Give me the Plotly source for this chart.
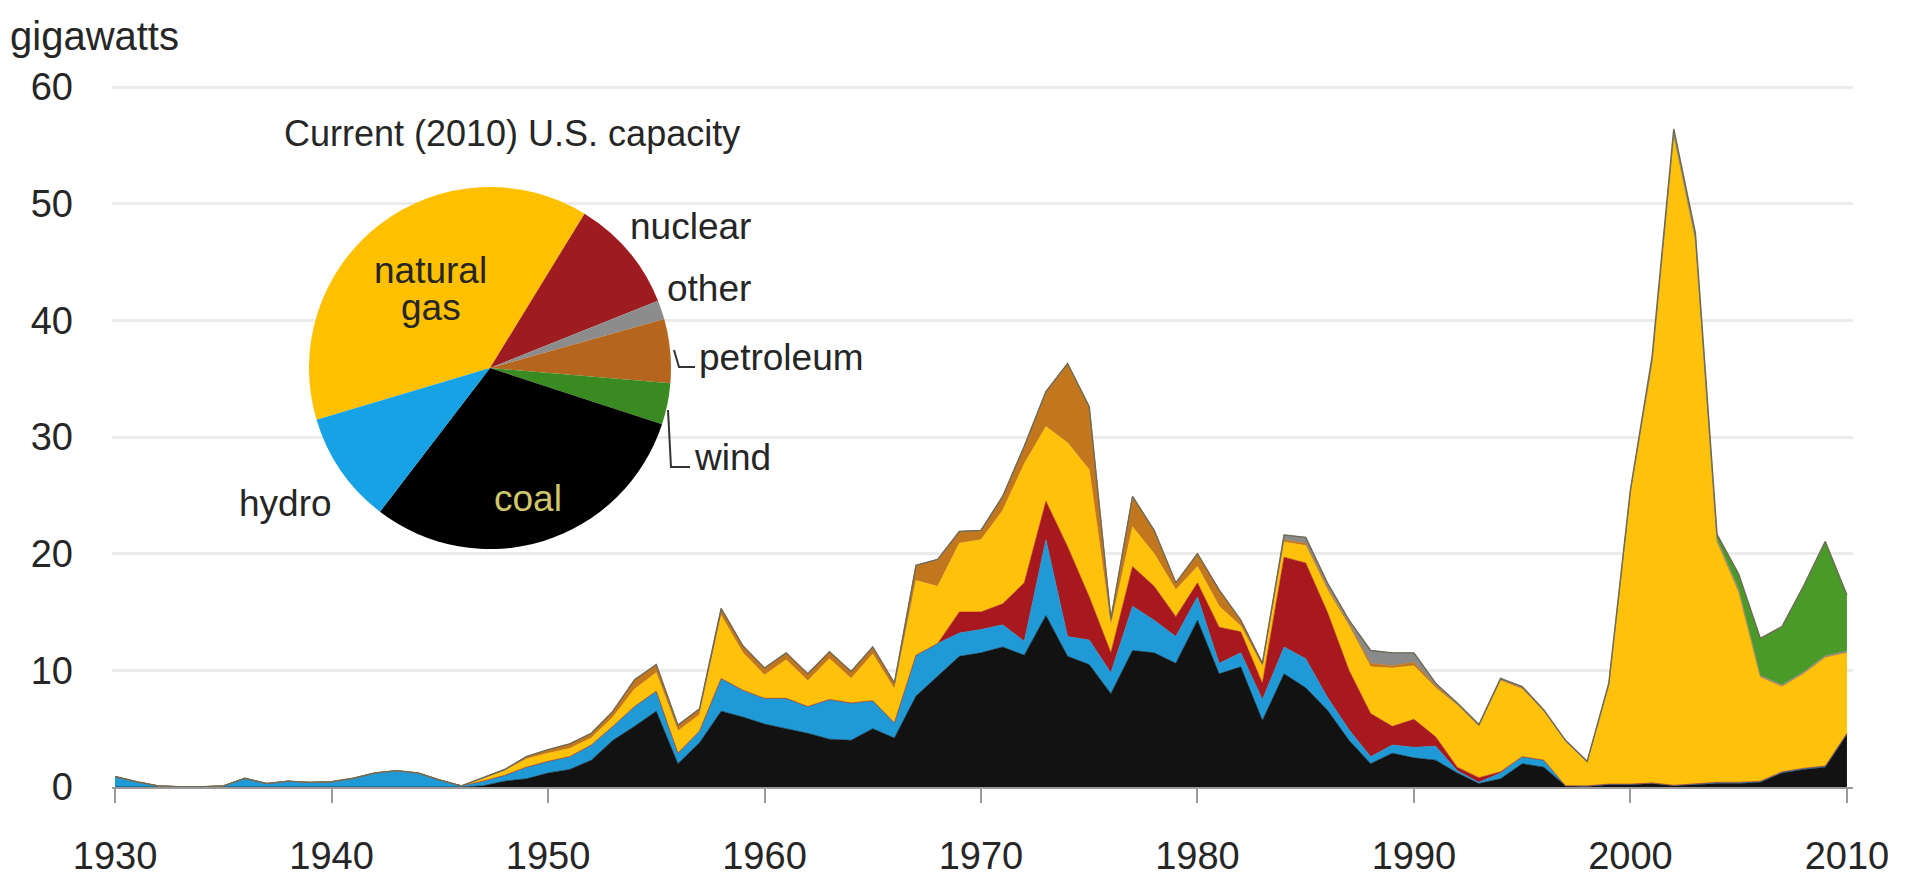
import plotly.graph_objects as go

# ---------------- data (gigawatts of capacity added per year) ----------------
years = list(range(1930, 2011))

coal = [0]*17 + [
    0.1, 0.5, 0.7, 1.2, 1.5, 2.3, 4.0, 5.2, 6.5, 2.0,      # 1947-1956
    3.8, 6.5, 6.0, 5.4, 5.0, 4.6, 4.1, 4.0, 5.0, 4.2,      # 1957-1966
    7.8, 9.5, 11.2, 11.5, 12.0, 11.3, 14.7, 11.2, 10.5, 8.0,  # 1967-1976
    11.7, 11.5, 10.6, 14.3, 9.7, 10.3, 5.7, 9.7, 8.5, 6.6,  # 1977-1986
    4.0, 2.0, 2.9, 2.5, 2.3, 1.2, 0.3, 0.7, 2.0, 1.7,       # 1987-1996
    0.1, 0.05, 0.2, 0.2, 0.3, 0.1, 0.2, 0.3, 0.3, 0.4,      # 1997-2006
    1.2, 1.5, 1.7, 4.5]                                     # 2007-2010

hydro = [
    0.9, 0.45, 0.1, 0.02, 0.02, 0.1, 0.75, 0.3, 0.5, 0.4,   # 1930-1939
    0.45, 0.75, 1.2, 1.4, 1.2, 0.6, 0.1,                    # 1940-1946
    0.4, 0.5, 1.0, 1.0, 1.1, 1.3, 1.2, 1.7, 1.7, 0.9,       # 1947-1956
    1.0, 2.8, 2.3, 2.2, 2.6, 2.3, 3.4, 3.2, 2.4, 1.3,       # 1957-1966
    3.5, 2.8, 2.0, 2.0, 1.9, 1.2, 6.5, 1.7, 2.1, 1.8,       # 1967-1976
    3.8, 2.8, 2.3, 2.0, 0.9, 1.2, 1.8, 2.3, 2.5, 1.1,       # 1977-1986
    0.9, 0.6, 0.7, 0.9, 1.2, 0.2, 0.1, 0.5, 0.6, 0.6,       # 1987-1996
    0.0, 0.05, 0.05, 0.05, 0.05, 0.05, 0.05, 0.1, 0.1, 0.1, # 1997-2006
    0.1, 0.1, 0.1, 0.1]                                     # 2007-2010

nuclear = [0]*38 + [
    0.0, 1.8, 1.5, 1.8, 5.0, 3.3, 7.7, 3.7, 1.7,            # 1968-1976
    3.4, 2.9, 1.7, 1.2, 3.1, 1.8, 1.4, 7.7, 8.2, 7.3,       # 1977-1986
    5.1, 3.7, 1.6, 2.4, 0.8, 0.3, 0.4, 0.1, 0.0, 0.0,       # 1987-1996
    0, 0, 0, 0, 0, 0, 0, 0, 0, 0,                           # 1997-2006
    0, 0, 0, 0]                                             # 2007-2010

natural_gas = [0]*17 + [
    0.2, 0.4, 0.7, 0.7, 0.7, 0.6, 0.8, 1.5, 1.6, 1.9,       # 1947-1956
    1.4, 5.4, 3.2, 2.0, 3.3, 2.2, 3.5, 2.1, 4.0, 2.9,       # 1957-1966
    6.4, 4.9, 5.9, 6.2, 8.0, 10.2, 6.4, 8.9, 10.9, 2.3,     # 1967-1976
    3.4, 2.8, 2.3, 1.4, 1.8, 0.5, 1.4, 1.3, 1.5, 1.9,       # 1977-1986
    3.8, 4.0, 5.0, 4.6, 4.2, 5.3, 4.4, 7.8, 5.8, 4.2,       # 1987-1996
    3.8, 2.0, 8.4, 25.0, 36.0, 55.7, 46.6, 20.6, 16.3, 8.9, # 1997-2006
    7.3, 8.1, 9.3, 6.9]                                     # 2007-2010

petroleum = [0]*17 + [
    0.1, 0.1, 0.2, 0.3, 0.4, 0.4, 0.5, 0.8, 0.7, 0.5,       # 1947-1956
    0.5, 0.6, 0.6, 0.6, 0.6, 0.6, 0.6, 0.6, 0.6, 0.5,       # 1957-1966
    1.3, 2.3, 1.0, 0.8, 1.2, 1.5, 3.0, 6.8, 5.4, 0.6,       # 1967-1976
    2.6, 2.0, 0.6, 1.1, 1.4, 0.5, 0.3, 0.2, 0.2, 0.2,       # 1977-1986
    0.2, 0.3, 0.2, 0.3, 0.2, 0.1, 0.05, 0.1, 0.1, 0.05,     # 1987-1996
    0.05, 0.05, 0.05, 0.05, 0.05, 0.05, 0.05, 0.05, 0.05, 0.05,  # 1997-2006
    0.05, 0.05, 0.05, 0.05]                                 # 2007-2010

other = [0]*54 + [
    0.4, 0.5, 0.4,                                          # 1984-1986
    0.3, 1.1, 1.1, 0.8, 0.2, 0.1, 0.1, 0.1, 0.1, 0.05,      # 1987-1996
    0.05, 0.05, 0.1, 0.1, 0.2, 0.2, 0.2, 0.2, 0.2, 0.1,     # 1997-2006
    0.1, 0.1, 0.1, 0.1]                                     # 2007-2010

wind = [0]*69 + [
    0.1, 0.1, 0.3, 0.3, 0.4, 0.4, 1.3, 3.2,                 # 1999-2006
    5.0, 7.4, 9.8, 4.8]                                     # 2007-2010

# 2010 capacity shares (percent) for the inset pie
pie_labels = ["natural gas", "nuclear", "other", "petroleum", "wind", "coal", "hydro"]
pie_shares = [38.4, 10.2, 1.7, 5.7, 3.7, 30.4, 10.0]

x_ticks = [1930, 1940, 1950, 1960, 1970, 1980, 1990, 2000, 2010]
y_ticks = [0, 10, 20, 30, 40, 50, 60]

# ---------------- styling ----------------
W, H = 1905, 888
L, R, T, B = 112, 52, 80, 101
PW, PH = W - L - R, H - T - B

def px_x(px):
    return (px - L) / PW

def px_y(py):
    return (H - B - py) / PH

FONT = "Liberation Sans, Arial, Helvetica, sans-serif"
TXT = "#262626"

series = [
    ("coal", coal, "#121212"),
    ("hydro", hydro, "#1F9AD6"),
    ("nuclear", nuclear, "#A8191F"),
    ("natural gas", natural_gas, "#FFC20A"),
    ("petroleum", petroleum, "#C2771E"),
    ("other", other, "#8A8A8A"),
    ("wind", wind, "#4A9A2A"),
]

fig = go.Figure()
for name, vals, col in series:
    edge = "#6f6a55" if name == "wind" else col
    lw = 1.4 if name == "wind" else 0.6
    fig.add_trace(go.Scatter(
        x=years, y=vals, name=name, mode="lines", stackgroup="one",
        line=dict(color=edge, width=lw), fillcolor=col,
        hoverinfo="x+y+name", showlegend=False))

pie_colors = ["#FFC000", "#9E1B20", "#8C8C8C", "#B5651D", "#3A8A22", "#000000", "#17A2E6"]
cx, cy, r = 490, 368, 181
fig.add_trace(go.Pie(
    labels=pie_labels, values=pie_shares, sort=False, direction="clockwise",
    rotation=253.4, textinfo="none", hoverinfo="label+percent",
    marker=dict(colors=pie_colors, line=dict(width=0)),
    domain=dict(x=[px_x(cx - r), px_x(cx + r)], y=[px_y(cy + r), px_y(cy - r)]),
    showlegend=False))

ann = []
def add_text(text, px, py, size=37, anchor="center", color=TXT):
    ann.append(dict(text=text, x=px_x(px), y=px_y(py), xref="paper", yref="paper",
                    xanchor=anchor, yanchor="middle", showarrow=False,
                    font=dict(family=FONT, size=size, color=color)))

add_text("gigawatts", 8, 36, size=40, anchor="left")
add_text("Current (2010) U.S. capacity", 512, 133, size=36)
add_text("natural", 430, 270)
add_text("gas", 431, 307)
add_text("nuclear", 628, 227, anchor="left")
add_text("other", 665, 288, anchor="left")
add_text("petroleum", 697, 357, anchor="left")
add_text("wind", 692, 457, anchor="left")
add_text("hydro", 285, 503)
add_text("coal", 528, 498, color="#CFC66A")

def path(points):
    d = "M " + " L ".join(f"{px_x(a):.5f},{px_y(b):.5f}" for a, b in points)
    return dict(type="path", path=d, xref="paper", yref="paper",
                line=dict(color="#333333", width=2))

shapes = [
    path([(674, 350), (679, 367), (695, 367)]),
    path([(668, 410), (671, 467), (690, 467)]),
]

fig.update_layout(
    width=W, height=H, autosize=False,
    margin=dict(l=L, r=R, t=T, b=B),
    paper_bgcolor="white", plot_bgcolor="white",
    font=dict(family=FONT, size=38, color=TXT),
    annotations=ann, shapes=shapes,
    xaxis=dict(range=[1929.86, 2010.28], tickvals=x_ticks, showgrid=False,
               zeroline=False, showline=True, linecolor="#9a9a9a", linewidth=2,
               ticks="outside", ticklen=14, tickwidth=2, tickcolor="#9a9a9a",
               ticklabelstandoff=20, tickfont=dict(size=38, color=TXT)),
    yaxis=dict(range=[0, 60.6], tickvals=y_ticks, showgrid=True,
               gridcolor="#ebebeb", gridwidth=3, zeroline=False, showline=False,
               ticks="", ticklabelstandoff=38, tickfont=dict(size=38, color=TXT)),
)

fig.write_html("out.html", config={"displayModeBar": False},
               post_script="document.body.style.margin='0';document.body.style.overflow='hidden';")
